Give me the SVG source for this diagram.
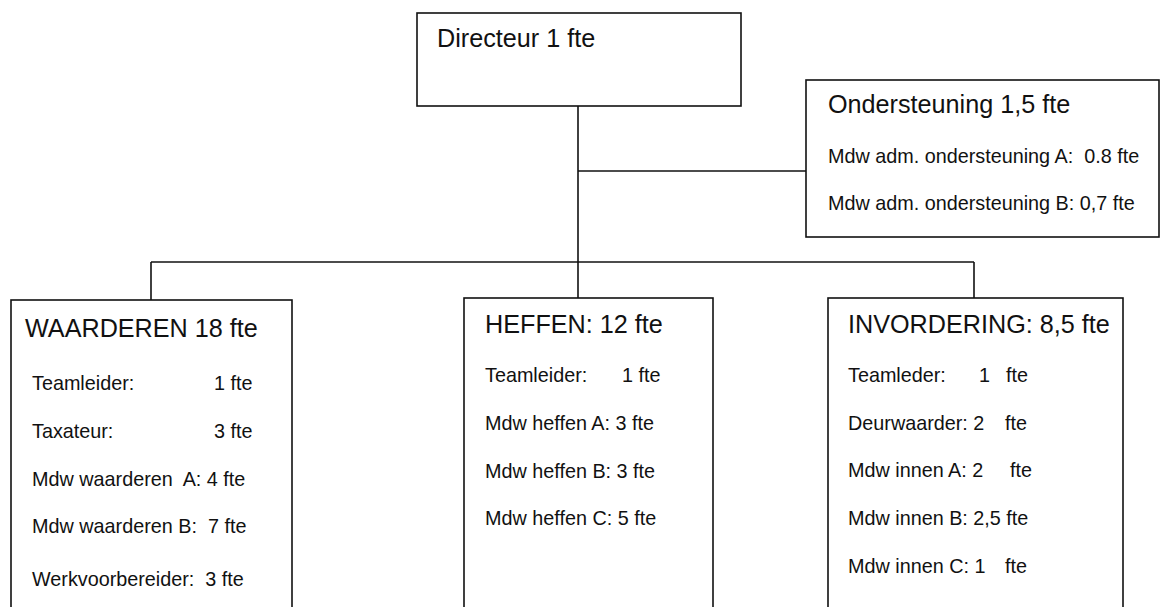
<svg xmlns="http://www.w3.org/2000/svg" width="1162" height="607" viewBox="0 0 1162 607" xml:space="preserve">
<style>
.box{fill:#fff;stroke:#111;stroke-width:1.6}
.ln{fill:none;stroke:#111;stroke-width:1.6}
.h{font-family:"Liberation Sans",Arial,sans-serif;font-size:25.2px;fill:#111;white-space:pre}
.t{font-family:"Liberation Sans",Arial,sans-serif;font-size:19.8px;fill:#111;white-space:pre}
</style>
<g id="connectors">
<path class="ln" d="M578 106 V298"/>
<path class="ln" d="M578 171 H806"/>
<path class="ln" d="M151 262 H974"/>
<path class="ln" d="M151 262 V300"/>
<path class="ln" d="M974 262 V298"/>
</g>
<g id="directeur">
<rect class="box" x="417" y="13" width="324" height="93"/>
<text class="h" x="437" y="47">Directeur 1 fte</text>
</g>
<g id="ondersteuning">
<rect class="box" x="806" y="80" width="353" height="157"/>
<text class="h" x="828" y="113">Ondersteuning 1,5 fte</text>
<text class="t" x="828" y="163">Mdw adm. ondersteuning A:  0.8 fte</text>
<text class="t" x="828" y="210">Mdw adm. ondersteuning B: 0,7 fte</text>
</g>
<g id="waarderen">
<rect class="box" x="11" y="300" width="281" height="320"/>
<text class="h" x="25" y="337">WAARDEREN 18 fte</text>
<text class="t" x="32" y="390">Teamleider:</text><text class="t" x="214" y="390">1 fte</text>
<text class="t" x="32" y="438">Taxateur:</text><text class="t" x="214" y="438">3 fte</text>
<text class="t" x="32" y="486">Mdw waarderen  A: 4 fte</text>
<text class="t" x="32" y="533">Mdw waarderen B:  7 fte</text>
<text class="t" x="32" y="586">Werkvoorbereider:  3 fte</text>
</g>
<g id="heffen">
<rect class="box" x="464" y="298" width="249" height="320"/>
<text class="h" x="485" y="333">HEFFEN: 12 fte</text>
<text class="t" x="485" y="382">Teamleider:</text><text class="t" x="622" y="382">1 fte</text>
<text class="t" x="485" y="430">Mdw heffen A: 3 fte</text>
<text class="t" x="485" y="478">Mdw heffen B: 3 fte</text>
<text class="t" x="485" y="525">Mdw heffen C: 5 fte</text>
</g>
<g id="invordering">
<rect class="box" x="828" y="298" width="295" height="320"/>
<text class="h" x="848" y="333">INVORDERING: 8,5 fte</text>
<text class="t" x="848" y="382">Teamleder:</text><text class="t" x="979" y="382">1</text><text class="t" x="1006" y="382">fte</text>
<text class="t" x="848" y="430">Deurwaarder: 2</text><text class="t" x="1005" y="430">fte</text>
<text class="t" x="848" y="477">Mdw innen A: 2</text><text class="t" x="1010" y="477">fte</text>
<text class="t" x="848" y="525">Mdw innen B: 2,5 fte</text>
<text class="t" x="848" y="573">Mdw innen C: 1</text><text class="t" x="1005" y="573">fte</text>
</g>
</svg>
